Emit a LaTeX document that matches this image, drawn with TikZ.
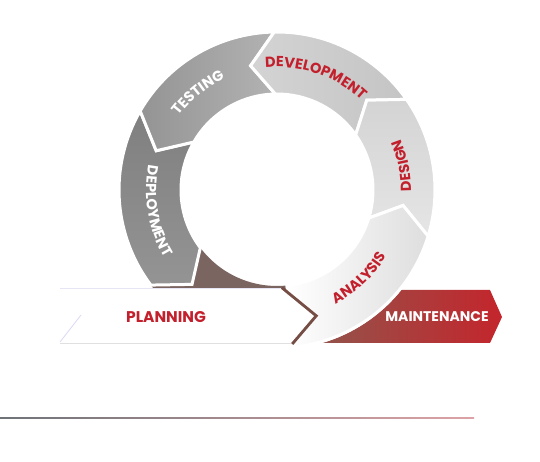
\documentclass[tikz,border=0pt]{standalone}
\usepackage{fontspec}
\setmainfont{Poppins}
\usetikzlibrary{decorations.text}
\definecolor{ringred}{HTML}{C3202D}
\definecolor{tailbrown}{HTML}{7B6560}
\definecolor{maintbrown}{HTML}{8B5B50}
\definecolor{maintred}{HTML}{C4252C}
\definecolor{rulegray}{HTML}{6E7378}
\definecolor{rulepink}{HTML}{DDA3A6}
\begin{document}
\begin{tikzpicture}[x=1pt,y=1pt]
    \tikzstyle{every node}+=[inner sep=0pt]
    \tikzstyle{segment}=[draw=white, line width=3pt, line join=miter]
    \tikzstyle{ringlabel}=[decorate, decoration={text along path, text align=center}]
    \useasboundingbox (0,0) rectangle (540,462);
    \shade [left color=rulegray, right color=rulepink] (0,43.4) rectangle (474,44.6);
    \shade [left color=maintbrown, right color=maintred] (290,172) -- (490,172) -- (502,145) -- (490,119) -- (290,119) -- cycle;
    \begin{scope}[shift={(277,272)}]
    \begin{scope}
    \clip (-277,-153) rectangle (263,190);
    \fill [tailbrown] (200:158) arc[start angle=200, end angle=300, radius=158] -- (300:96) arc[start angle=300, end angle=200, radius=96] -- cycle;
    \shade [segment, left color=white, right color=black!13] (-84:158) arc[start angle=-84, end angle=-17, radius=158] -- (-7:127) -- (-17:96) arc[start angle=-17, end angle=-84, radius=96] -- cycle;
    \end{scope}
    \shade [segment, top color=black!50, bottom color=black!42] (150:158) arc[start angle=150, end angle=217, radius=158] -- (228:127) -- (217:96) arc[start angle=217, end angle=150, radius=96] -- (162:127) -- cycle;
    \shade [segment, left color=black!42, right color=black!30] (91:158) arc[start angle=91, end angle=150, radius=158] -- (162:127) -- (150:96) arc[start angle=150, end angle=91, radius=96] -- (102:127) -- cycle;
    \shade [segment, left color=black!17, right color=black!23] (35:158) arc[start angle=35, end angle=91, radius=158] -- (102:127) -- (91:96) arc[start angle=91, end angle=35, radius=96] -- (45:127) -- cycle;
    \shade [segment, top color=black!17, bottom color=black!10] (-17:158) arc[start angle=-17, end angle=35, radius=158] -- (45:127) -- (35:96) arc[start angle=35, end angle=-17, radius=96] -- (-7:127) -- cycle;
    \shade [segment, left color=white, right color=black!13] (-84:158) arc[start angle=-84, end angle=-17, radius=158] -- (-7:127) -- (-17:96) arc[start angle=-17, end angle=-84, radius=96] -- cycle;
    \path [ringlabel, decoration={text={|\fontsize{14.5}{14.5}\selectfont\bfseries\color{ringred}|DEVELOPMENT}}] (111:123) arc[start angle=111, end angle=31, radius=123];
    \path [ringlabel, decoration={text={|\fontsize{14.5}{14.5}\selectfont\bfseries\color{white}|TESTING}}] (169:123) arc[start angle=169, end angle=89, radius=123];
    \path [ringlabel, decoration={text={|\fontsize{14.5}{14.5}\selectfont\bfseries\color{ringred}|DESIGN}}] (-29:134) arc[start angle=-29, end angle=51, radius=134];
    \path [ringlabel, decoration={text={|\fontsize{14.5}{14.5}\selectfont\bfseries\color{white}|DEPLOYMENT}}] (150:131) arc[start angle=150, end angle=230, radius=131];
    \path [ringlabel, decoration={text={|\fontsize{14.5}{14.5}\selectfont\bfseries\color{ringred}|ANALYSIS}}] (-87:128) arc[start angle=-87, end angle=-7, radius=128];
    \end{scope}
    \draw [maintbrown!85!black, line width=6pt, line join=miter] (281,173) -- (314,146) -- (291,119);
    \fill [white] (60,173) -- (281,173) -- (314,146) -- (291,119) -- (60,119) -- (82,147) -- cycle;
    \draw [black!35!blue!10!white, line width=1pt] (60,173) -- (281,173);
    \draw [black!12, line width=0.8pt] (60,119) -- (291,119);
    \draw [black!30!blue!15!white, line width=0.8pt] (60,120) -- (81,147);
    \node [font=\fontsize{15.5}{15.5}\selectfont\bfseries, text=ringred] (planning) at (166,145) {PLANNING};
    \node [font=\fontsize{14}{14}\selectfont\bfseries, text=white] (maintenance) at (437,145) {MAINTENANCE};
\end{tikzpicture}
\end{document}
